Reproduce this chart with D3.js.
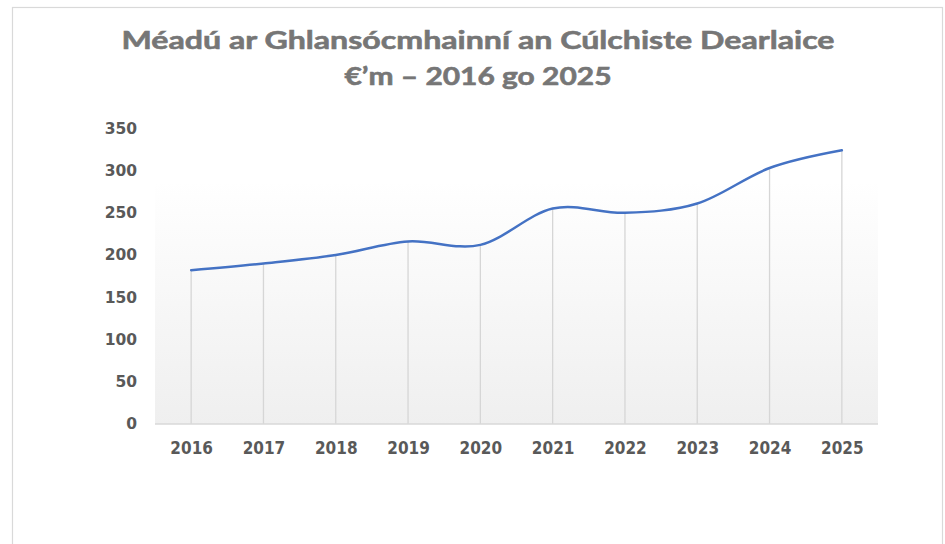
<!DOCTYPE html>
<html>
<head>
<meta charset="utf-8">
<script src="https://cdn.jsdelivr.net/npm/d3@7"></script>
<style>
  html, body { margin: 0; padding: 0; background: #ffffff; }
  svg { display: block; }
</style>
</head>
<body>
<svg id="chart" width="945" height="544"></svg>
<script>
const titleLines = ["Méadú ar Ghlansócmhainní an Cúlchiste Dearlaice", "€’m – 2016 go 2025"];
const years = ["2016", "2017", "2018", "2019", "2020", "2021", "2022", "2023", "2024", "2025"];
const values = [182, 190, 200, 216, 212, 255, 250, 261, 303, 324];
const yTicks = [0, 50, 100, 150, 200, 250, 300, 350];

const svg = d3.select("#chart");
const plot = { left: 155, right: 878, top: 128.3, bottom: 424 };

// outer chart border
svg.append("rect")
  .attr("x", 12.5).attr("y", 7.5)
  .attr("width", 930).attr("height", 560)
  .attr("fill", "#ffffff")
  .attr("stroke", "#d9d9d9").attr("stroke-width", 1.2);

const x = d3.scalePoint().domain(years).range([plot.left, plot.right]).padding(0.5);
const y = d3.scaleLinear().domain([0, 350]).range([plot.bottom, plot.top]);

// plot area gradient
const defs = svg.append("defs");
const grad = defs.append("linearGradient").attr("id", "pa").attr("x1", 0).attr("y1", 0).attr("x2", 0).attr("y2", 1);
grad.append("stop").attr("offset", "0%").attr("stop-color", "#ffffff");
grad.append("stop").attr("offset", "18%").attr("stop-color", "#ffffff");
grad.append("stop").attr("offset", "100%").attr("stop-color", "#efefef");
svg.append("rect")
  .attr("x", plot.left).attr("y", plot.top)
  .attr("width", plot.right - plot.left).attr("height", plot.bottom - plot.top)
  .attr("fill", "url(#pa)");

// drop lines
svg.append("g").selectAll("line").data(years).join("line")
  .attr("x1", d => x(d)).attr("x2", d => x(d))
  .attr("y1", (d, i) => y(values[i])).attr("y2", y(0))
  .attr("stroke", "#d6d6d6").attr("stroke-width", 1.3);

// x axis line
svg.append("line")
  .attr("x1", plot.left).attr("x2", plot.right)
  .attr("y1", y(0)).attr("y2", y(0))
  .attr("stroke", "#d9d9d9").attr("stroke-width", 1.5);

// y axis labels
const yAxis = d3.axisLeft(y).tickValues(yTicks).tickSize(0).tickPadding(0);
const gy = svg.append("g").attr("transform", `translate(${137},0)`).call(yAxis);
gy.select(".domain").remove();
gy.selectAll("text")
  .attr("fill", "#595959")
  .style("font-family", "'DejaVu Sans', Verdana, sans-serif")
  .style("font-weight", "bold")
  .style("font-size", "15.5px");

// x axis labels
const xAxis = d3.axisBottom(x).tickSize(0).tickPadding(0);
const gx = svg.append("g").attr("transform", `translate(0,${454})`).call(xAxis);
gx.select(".domain").remove();
gx.selectAll("text")
  .attr("fill", "#595959")
  .attr("dy", "0")
  .style("font-family", "'DejaVu Sans Condensed', 'DejaVu Sans', sans-serif")
  .style("font-stretch", "condensed")
  .style("font-weight", "bold")
  .style("font-size", "17px");

// line
const line = d3.line()
  .x((d, i) => x(years[i]))
  .y(d => y(d))
  .curve(d3.curveCardinal.tension(0));
svg.append("path")
  .datum(values)
  .attr("d", line)
  .attr("fill", "none")
  .attr("stroke", "#4472c4")
  .attr("stroke-width", 2.5)
  .attr("stroke-linecap", "round");

// title
const titleWidths = [713, 267];
const title = svg.append("text")
  .attr("text-anchor", "middle")
  .attr("fill", "#767676")
  .attr("stroke", "#767676")
  .attr("stroke-width", 0.6)
  .style("font-family", "Lato, 'Open Sans', sans-serif")
  .style("font-weight", "bold")
  .style("font-size", "25px");
title.selectAll("tspan").data(titleLines).join("tspan")
  .attr("x", 478)
  .attr("y", (d, i) => 49 + i * 36)
  .attr("textLength", (d, i) => titleWidths[i])
  .attr("lengthAdjust", "spacingAndGlyphs")
  .text(d => d);
</script>
</body>
</html>
